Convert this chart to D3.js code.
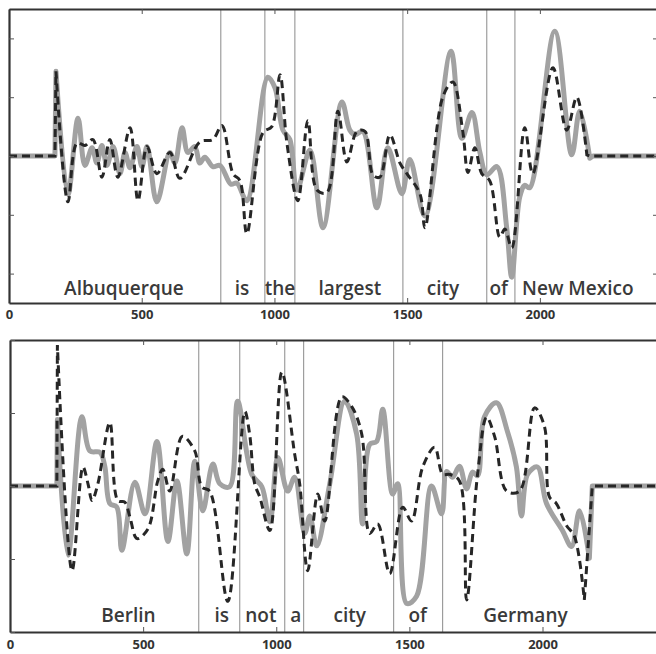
<!DOCTYPE html>
<html>
<head>
<meta charset="utf-8">
<script src="https://cdn.jsdelivr.net/npm/d3@7.9.0/dist/d3.min.js"></script>
<style>
  body { margin: 0; background: #fff; }
  text { font-family: "Open Sans", sans-serif; fill: #333; }
</style>
</head>
<body>
<svg id="chart" width="656" height="654"></svg>
<script>
// tick values
const xTicks = [0, 500, 1000, 1500, 2000];
const topYTicks = [-1, -0.5, 0, 0.5, 1];
const bottomYTicks = [-2, -1, 0, 1, 2];

// sentence 1
const topWords = ["Albuquerque", "is", "the", "largest", "city", "of", "New Mexico"];
const topWordCenters = [433, 878, 1021, 1284, 1635, 1845, 2143];
const topBounds = [798, 964, 1077, 1484, 1800, 1906];

// gray solid and black dashed traces, [time, value]
const topSolid = [
  [0,0],[173,0],[177,0.72],[222,-0.33],[260,0.32],[286,-0.08],[313,0.07],[331,-0.06],[350,0.09],
  [369,-0.08],[392,0.08],[418,-0.15],[437,0.03],[456,-0.10],[482,0.08],[501,-0.09],[520,0.08],
  [557,-0.39],[606,0.03],[625,-0.06],[652,0.24],[674,0.03],[700,0.08],[719,-0.06],[738,-0.01],
  [768,-0.09],[795,-0.08],[836,-0.24],[858,-0.23],[896,-0.38],[975,0.67],[1002,0.58],[1032,0.22],
  [1058,0.14],[1085,-0.29],[1134,0.05],[1183,-0.61],[1254,0.46],[1284,0.22],[1303,0.18],[1333,0.21],
  [1386,-0.44],[1427,0.07],[1480,-0.32],[1510,-0.03],[1567,-0.51],[1665,0.89],[1706,0.15],[1744,0.37],
  [1774,0.03],[1800,-0.16],[1838,-0.09],[1875,-0.61],[1894,-1.03],[1924,-0.35],[1943,-0.25],[1962,-0.27],
  [2056,1.06],[2120,0.01],[2150,0.38],[2188,-0.02],[2200,0],[2445,0]
];
const topDashed = [
  [0,0],[173,0],[177,0.72],[222,-0.39],[256,0.11],[286,0.09],[316,0.14],[350,-0.18],[380,0.14],
  [410,-0.18],[456,0.24],[486,-0.38],[520,0.08],[557,-0.15],[606,0.03],[644,-0.19],[719,0.12],
  [768,0.14],[802,0.26],[844,-0.15],[870,-0.21],[896,-0.66],[957,0.20],[990,0.25],[1021,0.69],
  [1047,0.11],[1088,-0.38],[1126,0.30],[1160,-0.29],[1198,-0.31],[1239,0.38],[1273,-0.05],[1311,0.21],
  [1341,0.21],[1371,-0.16],[1397,-0.18],[1435,0.18],[1473,-0.06],[1499,-0.15],[1548,-0.32],[1567,-0.61],
  [1634,0.50],[1672,0.63],[1710,0.20],[1729,-0.14],[1755,0.07],[1781,-0.15],[1811,-0.21],[1849,-0.69],
  [1868,-0.62],[1894,-0.78],[1943,0.24],[1973,-0.15],[2049,0.75],[2101,0.22],[2139,0.50],[2177,0.01],
  [2188,0],[2445,0]
];

// sentence 2
const bottomWords = ["Berlin", "is", "not", "a", "city", "of", "Germany"];
const bottomWordCenters = [445, 795, 942, 1073, 1276, 1531, 1936];
const bottomBounds = [709, 863, 1032, 1103, 1441, 1625];

const bottomSolid = [
  [0,0],[176,0],[178,0.91],[218,-0.95],[270,0.95],[300,0.48],[338,0.46],[356,0.27],[375,-0.24],
  [401,-0.29],[420,-0.88],[469,0.05],[507,-0.38],[552,0.61],[593,-0.76],[627,0.07],[664,-0.93],
  [694,0.34],[724,-0.34],[762,0.30],[788,0.03],[825,-0.01],[855,1.16],[908,0.16],[946,-0.01],
  [976,-0.49],[1006,0.39],[1043,-0.07],[1069,0.12],[1107,-0.65],[1126,-0.41],[1152,-0.82],[1201,0.03],
  [1257,1.16],[1302,0.71],[1324,-0.52],[1351,0.57],[1377,0.61],[1400,1.05],[1437,-0.11],[1456,0.03],
  [1490,-1.61],[1527,-1.51],[1583,0],[1621,-0.38],[1640,0.20],[1662,0.12],[1688,0.27],[1715,-0.04],
  [1737,0.19],[1756,0.14],[1782,0.95],[1827,1.14],[1868,0.75],[1902,0.26],[1921,-0.41],[1944,0.16],
  [1981,0.26],[2015,-0.24],[2075,-0.61],[2109,-0.83],[2139,-0.34],[2176,-0.99],[2187,0],[2445,0]
];
const bottomDashed = [
  [0,0],[176,0],[178,1.93],[233,-1.16],[274,0.26],[293,0.03],[308,-0.20],[330,0.03],[375,0.87],
  [405,-0.20],[431,-0.22],[450,-0.42],[477,-0.72],[518,-0.59],[555,0.07],[574,0.23],[600,-0.07],
  [647,0.68],[694,0.48],[720,-0.01],[750,-0.07],[818,-1.58],[882,1.02],[900,0.71],[919,0.03],
  [938,-0.15],[976,-0.61],[1021,1.56],[1069,0.44],[1088,0.03],[1118,-1.16],[1156,-0.11],[1182,-0.48],
  [1246,1.22],[1283,1.09],[1321,0.71],[1351,-0.65],[1381,-0.52],[1426,-1.20],[1475,-0.29],[1508,-0.48],
  [1550,0.26],[1595,0.53],[1625,0.16],[1651,0.16],[1688,0.07],[1715,-1.56],[1756,0.16],[1790,0.94],
  [1820,0.68],[1865,-0.07],[1914,-0.07],[1970,1.07],[2007,0.82],[2026,-0.15],[2052,-0.24],[2090,-0.54],
  [2120,-0.69],[2157,-1.56],[2187,0],[2445,0]
];

let svg = d3.select('#chart');

function drawPanel(p) {
  let x = d3.scaleLinear().domain([0, 2445]).range([p.left, p.right]);
  let y = d3.scaleLinear().domain([-p.ymax, p.ymax]).range([p.bottom, p.top]);
  let g = svg.append('g');

  // word boundaries
  g.selectAll('line.bound')
    .data(p.bounds)
    .join('line')
    .attr('class', 'bound')
    .attr('x1', d => x(d)).attr('x2', d => x(d))
    .attr('y1', p.top).attr('y2', p.bottom)
    .attr('stroke', '#8a8a8a')
    .attr('stroke-width', 1);

  // words
  g.selectAll('text.word')
    .data(p.words)
    .join('text')
    .attr('class', 'word')
    .attr('x', (d, i) => x(p.centers[i]))
    .attr('y', p.bottom - p.wordOffset)
    .attr('text-anchor', 'middle')
    .style('font-size', '19px')
    .style('font-weight', 600)
    .style('fill', '#3a3a3a')
    .text(d => d);

  // straight flat ends + jumps, smooth speech part in between
  let straight = d3.line().x(d => x(d[0])).y(d => y(d[1]));
  let smooth = d3.line().x(d => x(d[0])).y(d => y(d[1])).curve(d3.curveCatmullRom.alpha(0.5));
  function tracePath(data) {
    let n = data.length;
    let lead = straight(data.slice(0, 3));
    let body = smooth(data.slice(2, n - 2)).replace(/^M/, 'L');
    let tail = straight(data.slice(n - 3)).replace(/^M/, 'L');
    return lead + body + tail;
  }

  g.append('path')
    .attr('d', tracePath(p.solid))
    .attr('fill', 'none')
    .attr('stroke', '#a2a2a2')
    .attr('stroke-width', 5)
    .attr('stroke-linejoin', 'round');

  g.append('path')
    .attr('d', tracePath(p.dashed))
    .attr('fill', 'none')
    .attr('stroke', '#262626')
    .attr('stroke-width', 3)
    .attr('stroke-dasharray', '8,5');

  // frame with inward ticks
  let bottomAxis = d3.axisBottom(x).tickValues(xTicks).tickSize(-5).tickPadding(p.pad)
    .tickSizeOuter(0).tickFormat(d3.format('d'));
  let topAxis = d3.axisTop(x).tickValues(xTicks).tickSize(-5).tickFormat('').tickSizeOuter(0);
  let leftAxis = d3.axisLeft(y).tickValues(p.yTicks).tickSize(-5).tickFormat('').tickSizeOuter(0);
  let rightAxis = d3.axisRight(y).tickValues(p.yTicks).tickSize(-5).tickFormat('').tickSizeOuter(0);

  let axes = [
    g.append('g').attr('transform', `translate(0,${p.bottom})`).call(bottomAxis),
    g.append('g').attr('transform', `translate(0,${p.top})`).call(topAxis),
    g.append('g').attr('transform', `translate(${p.left},0)`).call(leftAxis),
    g.append('g').attr('transform', `translate(${p.right},0)`).call(rightAxis)
  ];
  axes.forEach(a => {
    a.select('.domain').attr('stroke', '#333').attr('stroke-width', 2.2);
    a.selectAll('.tick line').attr('stroke', '#555');
    a.selectAll('.tick text')
      .style('font-size', '13px')
      .style('font-weight', 700)
      .style('font-family', '"Open Sans", sans-serif')
      .attr('fill', '#333');
  });
}

drawPanel({
  left: 9, right: 658, top: 9, bottom: 303, ymax: 1.25, yTicks: topYTicks, pad: 7,
  words: topWords, centers: topWordCenters, bounds: topBounds, wordOffset: 8,
  solid: topSolid, dashed: topDashed
});
drawPanel({
  left: 10, right: 661, top: 340, bottom: 632, ymax: 2, yTicks: bottomYTicks, pad: 8,
  words: bottomWords, centers: bottomWordCenters, bounds: bottomBounds, wordOffset: 10,
  solid: bottomSolid, dashed: bottomDashed
});
</script>
</body>
</html>
